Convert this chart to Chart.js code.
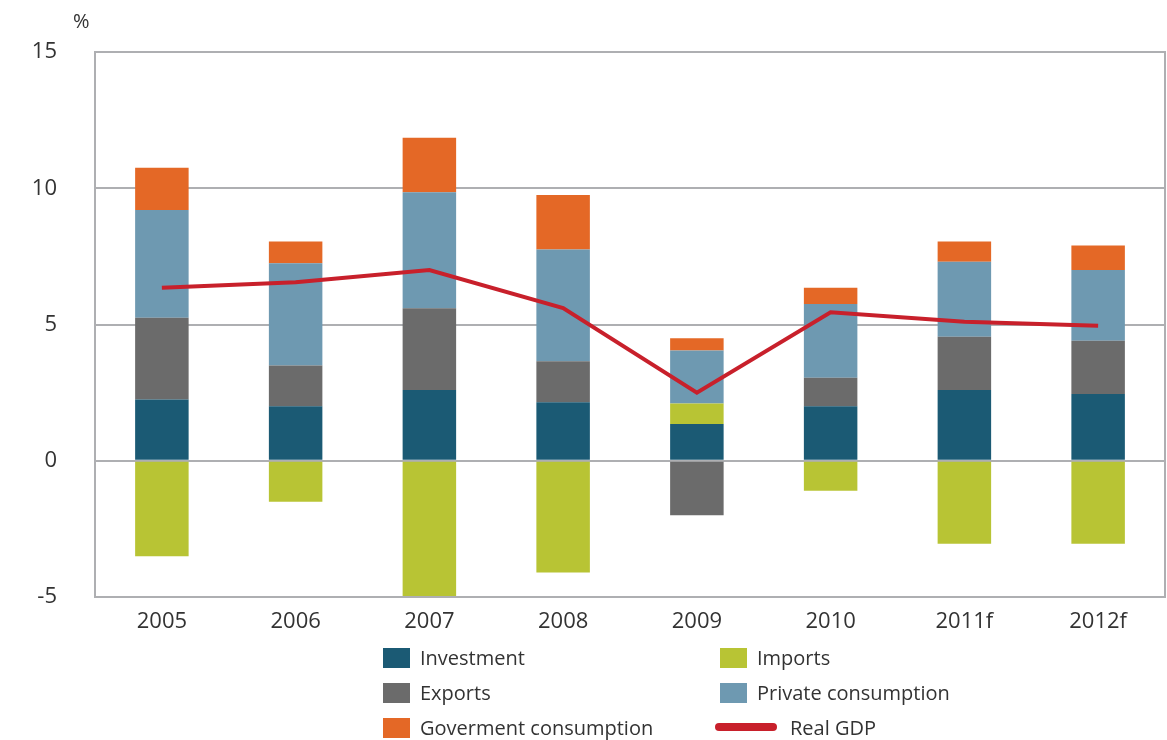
<!DOCTYPE html>
<html>
<head>
<meta charset="utf-8">
<script src="https://cdn.jsdelivr.net/npm/chart.js@4"></script>
<style>
  body { margin: 0; background: #fff; font-family: "Open Sans", sans-serif; color: #333; }
  #wrap { position: relative; width: 1167px; height: 740px; }
  #unit { position: absolute; left: 73px; top: 7px; font-size: 20px; }
  .item { position: absolute; font-size: 20px; line-height: 24px; white-space: nowrap; }
  .item .box { display: inline-block; width: 27px; height: 20px; vertical-align: -3px; margin-right: 10px; }
  .item .ln { display: inline-block; width: 62px; height: 8px; border-radius: 4px; vertical-align: 4px; margin-right: 13px; }
</style>
</head>
<body>
<div id="wrap">
  <canvas id="chart" width="1167" height="740"></canvas>
  <div id="unit">%</div>
  <div id="legend"></div>
</div>
<script>
// growth contributions, percentage points
const categories = ['2005', '2006', '2007', '2008', '2009', '2010', '2011f', '2012f'];
const investment = [2.25, 2.0, 2.6, 2.15, 1.35, 2.0, 2.6, 2.45];
const exportsData = [3.0, 1.5, 3.0, 1.5, -2.0, 1.05, 1.95, 1.95];
const imports = [-3.5, -1.5, -5.0, -4.1, 0.75, -1.1, -3.05, -3.05];
const privateCons = [3.95, 3.75, 4.25, 4.1, 1.95, 2.7, 2.75, 2.6];
const govCons = [1.55, 0.8, 2.0, 2.0, 0.45, 0.6, 0.75, 0.9];
const realGdp = [6.35, 6.55, 7.0, 5.6, 2.5, 5.45, 5.1, 4.95];
const yTicks = [-5, 0, 5, 10, 15];

const colors = {
    investment: '#1b5a74',
    exports: '#6b6b6b',
    imports: '#b8c434',
    privateCons: '#6e99b1',
    govCons: '#e46826',
    gdp: '#c8202b'
};

function bar(label, data, color) {
    return {
        type: 'bar',
        label: label,
        data: data,
        backgroundColor: color,
        borderWidth: 0,
        order: 1,
        categoryPercentage: 1,
        barPercentage: 0.4
    };
}

// frame around the plot area
const frame = {
    id: 'frame',
    afterDatasetsDraw(chart) {
        const a = chart.chartArea;
        const c = chart.ctx;
        c.save();
        c.strokeStyle = '#aeafb2';
        c.lineWidth = 2;
        c.strokeRect(a.left, a.top, a.right - a.left, a.bottom - a.top);
        c.restore();
    }
};

const ctx = document.getElementById('chart').getContext('2d');
const chart = new Chart(ctx, {
    data: {
        labels: categories,
        datasets: [
            {
                type: 'line',
                label: 'Real GDP',
                data: realGdp,
                borderColor: colors.gdp,
                borderWidth: 4,
                pointRadius: 0,
                tension: 0,
                stack: 'gdp',
                order: 0
            },
            bar('Investment', investment, colors.investment),
            bar('Exports', exportsData, colors.exports),
            bar('Imports', imports, colors.imports),
            bar('Private consumption', privateCons, colors.privateCons),
            bar('Goverment consumption', govCons, colors.govCons)
        ]
    },
    options: {
        responsive: false,
        animation: false,
        layout: { padding: { top: 52, right: 2, left: 0, bottom: 0 } },
        plugins: {
            legend: { display: false },
            tooltip: { enabled: false }
        },
        scales: {
            x: {
                stacked: true,
                grid: { display: false },
                border: { display: false },
                ticks: { color: '#333', font: { family: 'Open Sans', size: 22 }, padding: 4 },
                afterFit(s) { s.height = 143; }
            },
            y: {
                stacked: true,
                min: -5,
                max: 15,
                afterBuildTicks(s) { s.ticks = yTicks.map(v => ({ value: v })); },
                grid: { color: '#aeafb2', lineWidth: 2, drawTicks: false },
                border: { display: false },
                ticks: { color: '#333', font: { family: 'Open Sans', size: 22 }, padding: 38 },
                afterFit(s) { s.width = 95; }
            }
        }
    },
    plugins: [frame]
});

// two-column legend under the chart
const legendItems = [
    { label: 'Investment', color: colors.investment, x: 383, y: 646 },
    { label: 'Exports', color: colors.exports, x: 383, y: 681 },
    { label: 'Goverment consumption', color: colors.govCons, x: 383, y: 716 },
    { label: 'Imports', color: colors.imports, x: 720, y: 646 },
    { label: 'Private consumption', color: colors.privateCons, x: 720, y: 681 },
    { label: 'Real GDP', color: colors.gdp, x: 715, y: 716, line: true }
];
const legend = document.getElementById('legend');
legendItems.forEach(it => {
    const d = document.createElement('div');
    d.className = 'item';
    d.style.left = it.x + 'px';
    d.style.top = it.y + 'px';
    const sw = document.createElement('span');
    sw.className = it.line ? 'ln' : 'box';
    sw.style.background = it.color;
    d.appendChild(sw);
    d.appendChild(document.createTextNode(it.label));
    legend.appendChild(d);
});
</script>
</body>
</html>
